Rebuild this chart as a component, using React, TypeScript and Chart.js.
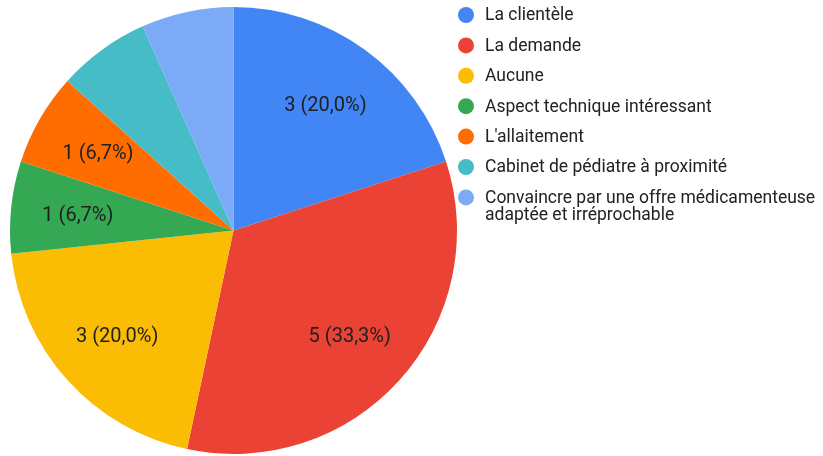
import React, { useEffect, useRef } from "react";
import { Chart, registerables } from "chart.js";

Chart.register(...registerables);

const categories: string[][] = [
  ["La clientèle"],
  ["La demande"],
  ["Aucune"],
  ["Aspect technique intéressant"],
  ["L'allaitement"],
  ["Cabinet de pédiatre à proximité"],
  ["Convaincre par une offre médicamenteuse", "adaptée et irréprochable"],
];
const values: number[] = [3, 5, 3, 1, 1, 1, 1];
const colors: string[] = ["#4285F4", "#EA4335", "#FBBC04", "#34A853", "#FF6D01", "#46BDC6", "#7BAAF7"];
const labelShown: boolean[] = [true, true, true, true, true, false, false];

const FONT = "Roboto, Arial, sans-serif";

const sliceLabelPlugin = {
  id: "sliceLabels",
  afterDatasetsDraw(chart: any) {
    const ctx = chart.ctx;
    const meta = chart.getDatasetMeta(0);
    const data = chart.data.datasets[0].data as number[];
    const total = data.reduce((a, b) => a + b, 0);
    ctx.save();
    ctx.font = `20px ${FONT}`;
    ctx.fillStyle = "#1f1f1f";
    ctx.textAlign = "center";
    ctx.textBaseline = "middle";
    meta.data.forEach((arc: any, i: number) => {
      if (!labelShown[i]) return;
      const { x, y, startAngle, endAngle, outerRadius } = arc.getProps(
        ["x", "y", "startAngle", "endAngle", "outerRadius"],
        true
      );
      const mid = (startAngle + endAngle) / 2;
      const r = outerRadius * 0.7;
      const pct = ((data[i] / total) * 100).toFixed(1).replace(".", ",");
      ctx.fillText(`${data[i]} (${pct}%)`, x + Math.cos(mid) * r, y + Math.sin(mid) * r + 2);
    });
    ctx.restore();
  },
};

const legendPlugin = {
  id: "customLegend",
  afterDraw(chart: any) {
    const ctx = chart.ctx;
    const cx = 466;
    const tx = 485;
    const startY = 15;
    const step = 30.4;
    ctx.save();
    ctx.font = `17.5px ${FONT}`;
    ctx.textAlign = "left";
    ctx.textBaseline = "middle";
    categories.forEach((lines, i) => {
      const y = startY + i * step;
      ctx.fillStyle = colors[i];
      ctx.beginPath();
      ctx.arc(cx, y, 8, 0, Math.PI * 2);
      ctx.fill();
      ctx.fillStyle = "#222222";
      lines.forEach((line, j) => {
        ctx.fillText(line, tx, y + 1 + j * 17.5);
      });
    });
    ctx.restore();
  },
};

export default function App() {
  const ref = useRef<HTMLCanvasElement | null>(null);
  useEffect(() => {
    document.body.style.margin = "0";
    if (!ref.current) return;
    const chart = new Chart(ref.current, {
      type: "pie",
      data: {
        labels: categories.map((l) => l.join(" ")),
        datasets: [
          {
            data: values,
            backgroundColor: colors,
            borderWidth: 0,
          },
        ],
      },
      options: {
        responsive: false,
        animation: false,
        layout: { padding: { left: 10, top: 7, right: 366, bottom: 2 } },
        plugins: {
          legend: { display: false },
          tooltip: { enabled: false },
        },
      },
      plugins: [sliceLabelPlugin, legendPlugin],
    });
    return () => chart.destroy();
  }, []);
  return (
    <div style={{ width: 823, height: 456, background: "#fff" }}>
      <canvas ref={ref} width={823} height={456} style={{ display: "block" }} />
    </div>
  );
}
